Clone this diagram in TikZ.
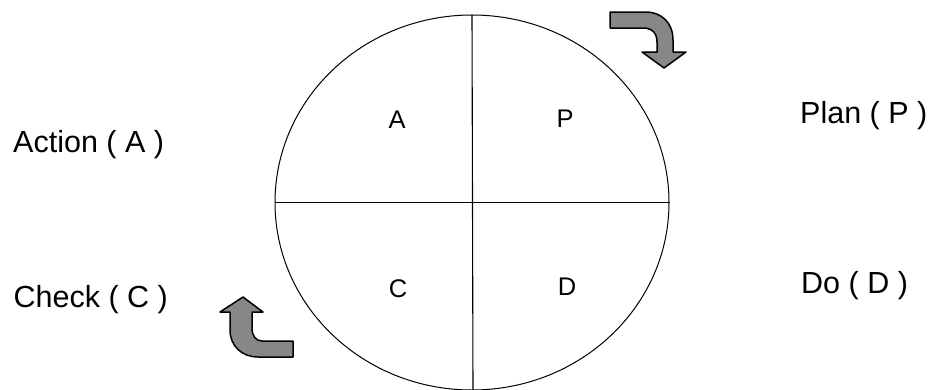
\documentclass[tikz,border=0pt]{standalone}
\usepackage{fontspec}
\setmainfont{Liberation Sans}
\usetikzlibrary{shapes.geometric}
\begin{document}
\begin{tikzpicture}[x=1pt,y=-1pt,
  outer/.style={font=\fontsize{30.5}{33}\selectfont, inner sep=0pt, anchor=base west},
  inner/.style={font=\fontsize{25.5}{28}\selectfont, inner sep=0pt, anchor=base},
  ring/.style={draw=black, line width=1pt, ellipse, inner sep=0pt, minimum width=394pt, minimum height=375pt},
  divider/.style={draw=black, line width=1.1pt},
  turn/.style={draw=black, line width=1.5pt, fill={rgb,255:red,135;green,135;blue,135}, line join=round}]
\useasboundingbox (0,0) rectangle (931,389);
\fill[white] (0,0) rectangle (931,389);
% circle
\node[ring] (c) at (472,202.5) {};
\coordinate (vbot) at (473,392);
\draw[divider] (c.north) -- (vbot);
\draw[divider] (c.west) -- (c.east);
% inner labels
\node[inner] (la) at (397,128) {A};
\node[inner] (lp) at (565,127) {P};
\node[inner] (lc) at (398,297) {C};
\node[inner] (ld) at (567,295) {D};
% outer labels
\node[outer] (ta) at (13,152) {Action ( A )};
\node[outer] (tp) at (800,123) {Plan ( P )};
\node[outer] (tc) at (13.5,307) {Check ( C )};
\node[outer] (td) at (801,293) {Do ( D )};
% top right curved arrow
\draw[turn] (610,12) -- (645,12) .. controls (662,12) and (673,23) .. (673,40)
  -- (673,52) -- (686,52) -- (664,68) -- (642,52) -- (657,52) -- (657,42)
  .. controls (657,33) and (652,28) .. (643,28) -- (610,28) -- cycle;
% bottom left curved arrow
\draw[turn] (293,341) -- (262,341) .. controls (256,341) and (252,336) .. (252,328)
  -- (252,312) -- (263,312) -- (243,297) -- (220,312) -- (230,312) -- (230,330)
  .. controls (230,346) and (242,357) .. (258,357) -- (293,357) -- cycle;
\end{tikzpicture}
\end{document}
